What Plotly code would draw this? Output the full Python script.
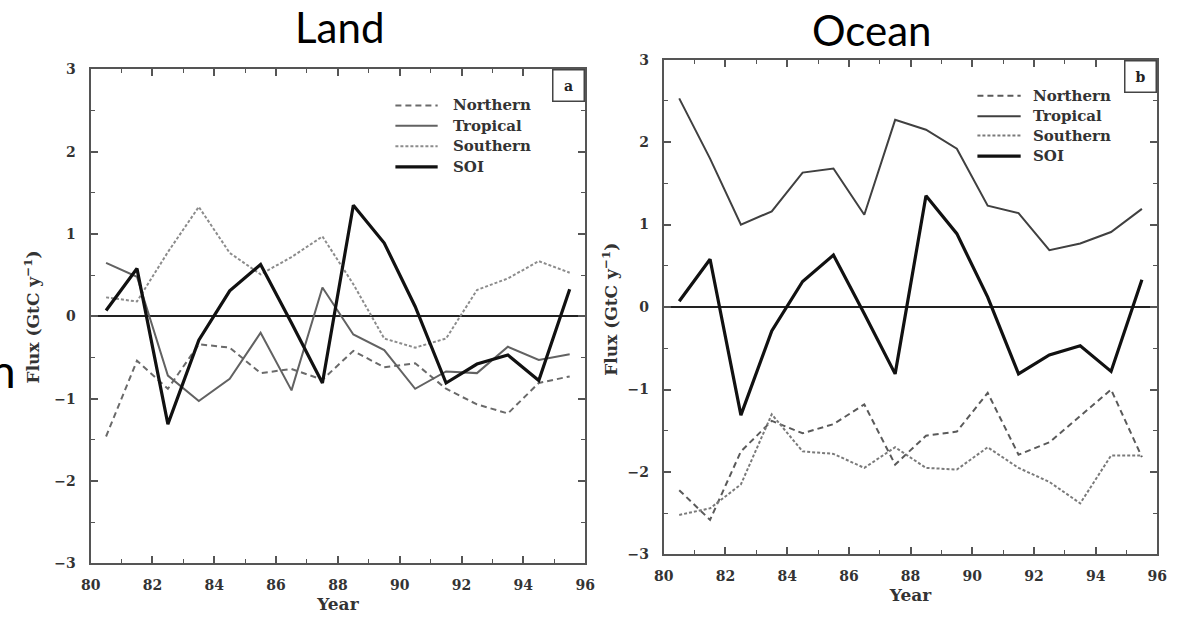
import plotly.graph_objects as go

W, H = 1187, 619

# ---------------- data ----------------
years = [80.5, 81.5, 82.5, 83.5, 84.5, 85.5, 86.5, 87.5,
         88.5, 89.5, 90.5, 91.5, 92.5, 93.5, 94.5, 95.5]

soi = [0.07, 0.58, -1.31, -0.29, 0.31, 0.63, -0.08, -0.81,
       1.35, 0.89, 0.12, -0.81, -0.58, -0.47, -0.78, 0.33]

land_northern = [-1.46, -0.54, -0.88, -0.34, -0.38, -0.69, -0.64, -0.77,
                 -0.42, -0.62, -0.57, -0.88, -1.07, -1.18, -0.81, -0.73]
land_tropical = [0.65, 0.48, -0.72, -1.03, -0.76, -0.20, -0.90, 0.35,
                 -0.22, -0.41, -0.88, -0.67, -0.69, -0.37, -0.53, -0.46]
land_southern = [0.23, 0.18, 0.78, 1.33, 0.77, 0.51, 0.72, 0.97,
                 0.39, -0.27, -0.38, -0.27, 0.32, 0.46, 0.67, 0.53]

ocean_northern = [-2.22, -2.58, -1.75, -1.38, -1.53, -1.42, -1.18, -1.91,
                  -1.56, -1.51, -1.04, -1.79, -1.64, -1.32, -1.00, -1.82]
ocean_tropical = [2.53, 1.80, 1.00, 1.16, 1.63, 1.68, 1.12, 2.27,
                  2.15, 1.92, 1.23, 1.14, 0.69, 0.77, 0.91, 1.19]
ocean_southern = [-2.52, -2.44, -2.15, -1.30, -1.75, -1.78, -1.95, -1.70,
                  -1.95, -1.97, -1.70, -1.95, -2.12, -2.38, -1.80, -1.80]

series_names = ["Northern", "Tropical", "Southern", "SOI"]
panel_titles = ["Land", "Ocean"]
panel_letters = ["a", "b"]
x_title = "Year"
y_title = "Flux (GtC y<sup>\u22121</sup>)"
x_ticks = [80, 82, 84, 86, 88, 90, 92, 94, 96]
y_ticks = [-3, -2, -1, 0, 1, 2, 3]
y_ticklabels = ["\u22123", "\u22122", "\u22121", "0", "1", "2", "3"]

# ---------------- styles ----------------
def px_x(p):
    return p / W

def px_y(p):
    return 1 - p / H

styles_land = {
    "Northern": dict(color="#6a6a6a", width=2.0, dash="6px,4px"),
    "Tropical": dict(color="#626262", width=2.0, dash="solid"),
    "Southern": dict(color="#8c8c8c", width=2.0, dash="3px,2px"),
    "SOI": dict(color="#111111", width=3.2, dash="solid"),
}
styles_ocean = {
    "Northern": dict(color="#5a5a5a", width=2.0, dash="6px,4px"),
    "Tropical": dict(color="#404040", width=2.0, dash="solid"),
    "Southern": dict(color="#7a7a7a", width=2.0, dash="3px,2px"),
    "SOI": dict(color="#111111", width=3.2, dash="solid"),
}

fig = go.Figure()

panels = [
    dict(xa="x", ya="y", data=[land_northern, land_tropical, land_southern, soi],
         styles=styles_land),
    dict(xa="x2", ya="y2", data=[ocean_northern, ocean_tropical, ocean_southern, soi],
         styles=styles_ocean),
]

for p in panels:
    for name, vals in zip(series_names, p["data"]):
        st = p["styles"][name]
        fig.add_trace(go.Scatter(
            x=years, y=vals, mode="lines", name=name,
            line=dict(color=st["color"], width=st["width"], dash=st["dash"]),
            xaxis=p["xa"], yaxis=p["ya"], showlegend=False,
        ))

tick_font = dict(family="DejaVu Serif", size=14, color="#333333", weight="bold")
title_font = dict(family="DejaVu Serif", size=17, color="#333333", weight="bold")

def xaxis_cfg(domain, anchor):
    return dict(
        domain=domain, anchor=anchor, range=[80, 96],
        tickmode="array", tickvals=x_ticks, ticktext=[str(t) for t in x_ticks],
        ticks="inside", ticklen=7, tickwidth=1.5, tickcolor="#555",
        minor=dict(dtick=1, tick0=80, ticks="inside", ticklen=4, tickwidth=1.2, tickcolor="#555"),
        showline=True, linecolor="#555", linewidth=2, mirror="ticks",
        showgrid=False, zeroline=False, tickfont=tick_font,
        ticklabelstandoff=8,
        title=dict(text=x_title, font=title_font, standoff=6),
    )

def yaxis_cfg(domain, anchor):
    return dict(
        domain=domain, anchor=anchor, range=[-3, 3],
        tickmode="array", tickvals=y_ticks, ticktext=y_ticklabels,
        ticks="inside", ticklen=7, tickwidth=1.5, tickcolor="#555",
        minor=dict(dtick=0.5, tick0=0, ticks="inside", ticklen=4, tickwidth=1.2, tickcolor="#555"),
        showline=True, linecolor="#555", linewidth=2, mirror="ticks",
        showgrid=False, zeroline=True, zerolinecolor="#222", zerolinewidth=1.6,
        tickfont=tick_font, ticklabelstandoff=10,
    )

left_x = [px_x(82), px_x(585)]
left_y = [px_y(570), px_y(63)]
right_x = [px_x(665), px_x(1167)]
right_y = [px_y(561), px_y(53)]

fig.update_layout(
    width=W, height=H,
    margin=dict(l=0, r=0, t=0, b=0),
    paper_bgcolor="white", plot_bgcolor="white",
    showlegend=False,
    xaxis=xaxis_cfg(left_x, "y"),
    yaxis=yaxis_cfg(left_y, "x"),
    xaxis2=xaxis_cfg(right_x, "y2"),
    yaxis2=yaxis_cfg(right_y, "x2"),
)

annotations = []
shapes = []

# panel titles
annotations.append(dict(text=panel_titles[0], xref="paper", yref="paper",
                        x=px_x(335), y=px_y(20), xanchor="center", yanchor="middle",
                        showarrow=False, font=dict(family="Lato", size=42, color="black")))
annotations.append(dict(text=panel_titles[1], xref="paper", yref="paper",
                        x=px_x(877), y=px_y(23), xanchor="center", yanchor="middle",
                        showarrow=False, font=dict(family="Lato", size=42, color="black")))
# cut-off letter at the left edge (as in the reference)
annotations.append(dict(text="n", xref="paper", yref="paper",
                        x=px_x(8), y=px_y(372), xanchor="right", yanchor="middle",
                        showarrow=False, font=dict(family="Lato", size=46, color="black")))

# y-axis titles (rotated)
for cx, cy in [(22, 317), (610, 309)]:
    annotations.append(dict(text=y_title, xref="paper", yref="paper",
                            x=px_x(cx), y=px_y(cy), xanchor="center", yanchor="middle",
                            textangle=-90, showarrow=False, font=title_font))

# panel letters in boxes
for letter, xa in zip(panel_letters, ["x", "x2"]):
    ya = "y" if xa == "x" else "y2"
    annotations.append(dict(text=letter, xref=f"{xa} domain", yref=f"{ya} domain",
                            x=1, y=1, xanchor="right", yanchor="top", showarrow=False,
                            width=30, height=30, borderwidth=1.5, bordercolor="#444",
                            borderpad=0, bgcolor="white",
                            font=dict(family="DejaVu Serif", size=14, color="#222", weight="bold")))

# manual legends
legend_specs = [
    dict(styles=styles_land, line_x=(392, 435), text_x=449, rows=[100, 121, 142, 163]),
    dict(styles=styles_ocean, line_x=(984, 1028), text_x=1039, rows=[90, 111, 131, 152]),
]
for spec in legend_specs:
    for name, ry in zip(series_names, spec["rows"]):
        st = spec["styles"][name]
        shapes.append(dict(type="line", xref="paper", yref="paper",
                           x0=px_x(spec["line_x"][0]), x1=px_x(spec["line_x"][1]),
                           y0=px_y(ry), y1=px_y(ry),
                           line=dict(color=st["color"], width=st["width"], dash=st["dash"])))
        annotations.append(dict(text=name, xref="paper", yref="paper",
                                x=px_x(spec["text_x"]), y=px_y(ry), xanchor="left", yanchor="middle",
                                showarrow=False,
                                font=dict(family="DejaVu Serif", size=15, color="#333", weight="bold")))

fig.update_layout(annotations=annotations, shapes=shapes)

fig.write_html("out.html")
